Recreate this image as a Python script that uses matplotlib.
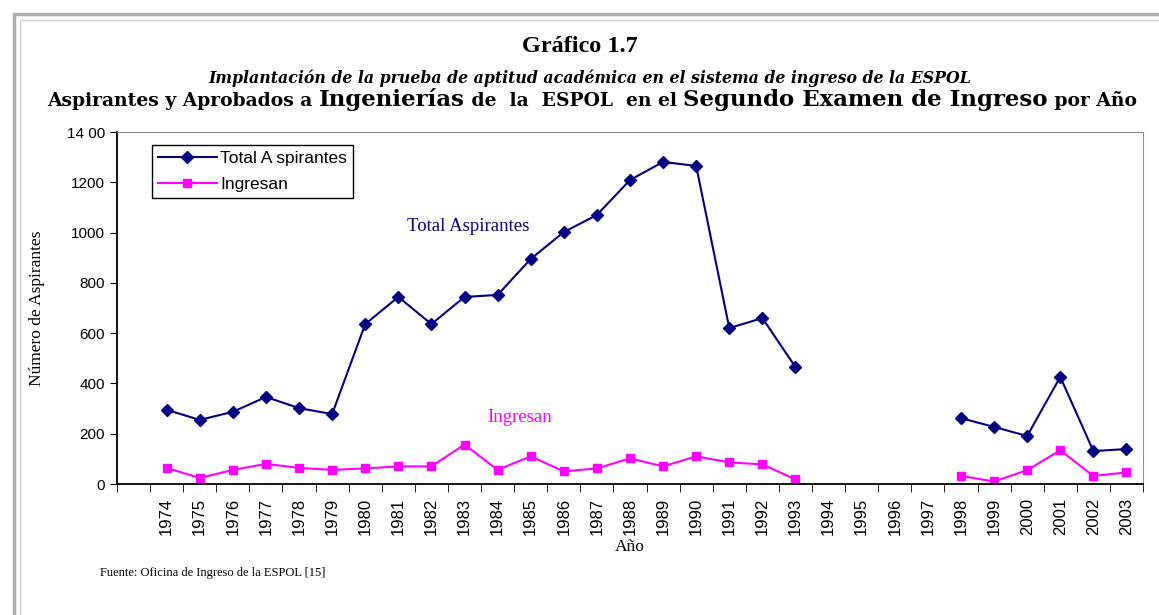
import numpy as np
import matplotlib
matplotlib.use('Agg')
import matplotlib.pyplot as plt
from matplotlib.patches import Rectangle

# categories (first slot is an empty category, as in the original sheet)
years = [''] + [str(y) for y in range(1974, 2004)]

nan = np.nan
total_aspirantes = [nan, 295, 255, 287, 346, 302, 278, 636, 744, 636, 744, 752, 895,
                    1002, 1070, 1209, 1281, 1265, 620, 660, 465, nan, nan, nan, nan,
                    262, 227, 191, 426, 131, 139]
ingresan = [nan, 64, 24, 56, 80, 64, 56, 62, 70, 70, 157, 56, 110, 50, 62, 102, 70,
            110, 86, 78, 18, nan, nan, nan, nan, 32, 10, 55, 134, 32, 46]

y_ticks = [0, 200, 400, 600, 800, 1000, 1200, 1400]

W, H = 1159, 615
fig = plt.figure(figsize=(W / 100, H / 100), dpi=100)

# grey double frame around the whole figure
fig.patches.append(Rectangle((14 / W, -0.1), 1.2, (H - 14) / H + 0.1, transform=fig.transFigure,
                             fill=False, edgecolor='#b0b0b0', lw=2.5))
fig.patches.append(Rectangle((20 / W, -0.1), 1.2, (H - 20) / H + 0.1, transform=fig.transFigure,
                             fill=False, edgecolor='#d0d0d0', lw=1))

ax = fig.add_axes([117 / W, 1 - 484 / H, (1143 - 117) / W, (484 - 132) / H])

x = np.arange(len(years))
ax.plot(x, total_aspirantes, color='#000080', marker='D', markersize=6, lw=1.5,
        label='Total A spirantes')
ax.plot(x, ingresan, color='#ff00ff', marker='s', markersize=6, lw=1.5, label='Ingresan')

ax.set_xlim(-0.5, len(years) - 0.5)
ax.set_ylim(0, 1400)
ax.set_yticks(y_ticks)
ax.set_yticklabels(['0', '200', '400', '600', '800', '1000', '1200', '14 00'],
                   fontsize=11, family='Liberation Sans')
ax.set_xticks(x)
ax.set_xticklabels(years, rotation=90, fontsize=12, family='Liberation Sans')
ax.set_xticks(np.arange(-0.5, len(years)), minor=True)
ax.tick_params(axis='x', which='major', length=0, pad=10)
ax.tick_params(axis='x', which='minor', length=6, direction='out', color='black')
ax.tick_params(axis='y', length=5, direction='out', color='black')

for s in ['top', 'right']:
    ax.spines[s].set_color('#909090')
for s in ['left', 'bottom']:
    ax.spines[s].set_color('black')
    ax.spines[s].set_linewidth(1.3)

ax.set_ylabel('Número de Aspirantes', family='Liberation Serif', fontsize=12.5, labelpad=16)
ax.set_xlabel('Año', family='Liberation Serif', fontsize=12.5, labelpad=3)

leg = ax.legend(loc='upper left', bbox_to_anchor=(0.034, 0.963), borderaxespad=0,
                fancybox=False, edgecolor='black', framealpha=1, borderpad=0.35,
                labelspacing=0.6, handlelength=3.4, handletextpad=0.2,
                prop={'family': 'Liberation Sans', 'size': 12.5})
leg.get_frame().set_linewidth(1)

ax.text(8.25, 1026, 'Total Aspirantes', color='#000080', family='Liberation Serif',
        fontsize=13.5, va='center')
ax.text(10.68, 266, 'Ingresan', color='#ff00ff', family='Liberation Serif',
        fontsize=13.5, va='center')

# titles
fig.text(580 / W, 1 - 46 / H, 'Gráfico 1.7', ha='center', va='center',
         family='Liberation Serif', weight='bold', fontsize=17.5)
fig.text(590 / W, 1 - 78 / H,
         'Implantación de la prueba de aptitud académica en el sistema de ingreso de la ESPOL',
         ha='center', va='center', family='DejaVu Serif', style='italic', weight='bold',
         fontsize=11.3)

# third title line with mixed sizes
pieces = [('Aspirantes y Aprobados a ', 13.5), ('Ingenierías', 16.5),
          (' de  la  ESPOL  en el ', 13.5), ('Segundo Examen de Ingreso', 16.5),
          (' por Año', 13.5)]
renderer = fig.canvas.get_renderer()
texts = []
for s, fs in pieces:
    t = fig.text(0, 1 - 106 / H, s, ha='left', va='baseline', family='DejaVu Serif',
                 weight='bold', fontsize=fs)
    texts.append(t)
widths = [t.get_window_extent(renderer).width for t in texts]
start = 592 - sum(widths) / 2
for t, w in zip(texts, widths):
    t.set_x(start / W)
    start += w

fig.text(100 / W, 1 - 573 / H, 'Fuente: Oficina de Ingreso de la ESPOL [15]',
         family='Liberation Serif', fontsize=9, va='center')

plt.savefig('out.png', dpi=100)
plt.close()
